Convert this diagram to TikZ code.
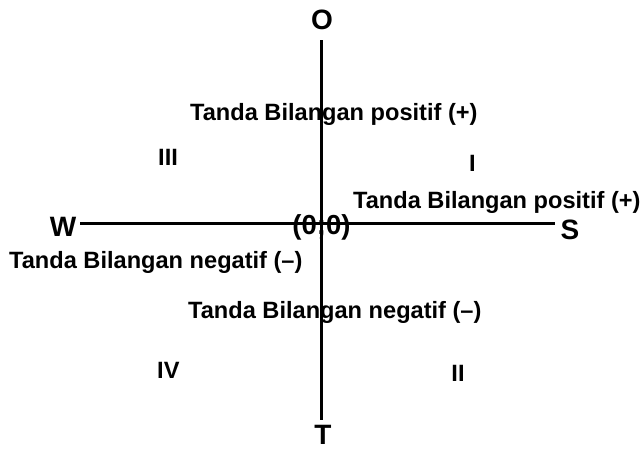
\documentclass[tikz,border=0pt]{standalone}
\usepackage{fontspec}
\setmainfont{Liberation Sans}
\begin{document}
\begin{tikzpicture}[x=1pt,y=-1pt,
  axis/.style={line width=3pt, black},
  lbl/.style={inner sep=0pt, font=\fontsize{23.6}{28}\selectfont\bfseries},
  dir/.style={inner sep=0pt, font=\fontsize{28}{32}\selectfont\bfseries},
  orig/.style={inner sep=0pt, font=\fontsize{27.5}{32}\selectfont\bfseries}]
\useasboundingbox (0,0) rectangle (641,450);

% axis end points
\coordinate (top) at (321,40);
\coordinate (bottom) at (321,420);
\coordinate (left) at (80,223);
\coordinate (right) at (555,223);

\draw[axis] (top) -- (bottom);
\draw[axis] (left) -- (right);

% compass labels
\node[dir, anchor=base] (north) at (322,29) {O};
\node[dir, anchor=base] (south) at (323,444) {T};
\node[dir, anchor=base] (west) at (63,236) {W};
\node[dir, anchor=base] (east) at (570,239) {S};

% origin
\node[orig, anchor=base] (origin) at (321.5,234) {(0;0)};

% quadrant numbers
\node[lbl, anchor=base west] (q3) at (158,165) {III};
\node[lbl, anchor=base west] (q1) at (469,171) {I};
\node[lbl, anchor=base west] (q4) at (157,378) {IV};
\node[lbl, anchor=base] (q2) at (458,381) {II};

% sign descriptions
\node[lbl, anchor=base west] (posy) at (190,120) {Tanda Bilangan positif (+)};
\node[lbl, anchor=base west] (posx) at (353,208) {Tanda Bilangan positif (+)};
\node[lbl, anchor=base west] (negx) at (9,268) {Tanda Bilangan negatif (–)};
\node[lbl, anchor=base west] (negy) at (188,318) {Tanda Bilangan negatif (–)};
\end{tikzpicture}
\end{document}
